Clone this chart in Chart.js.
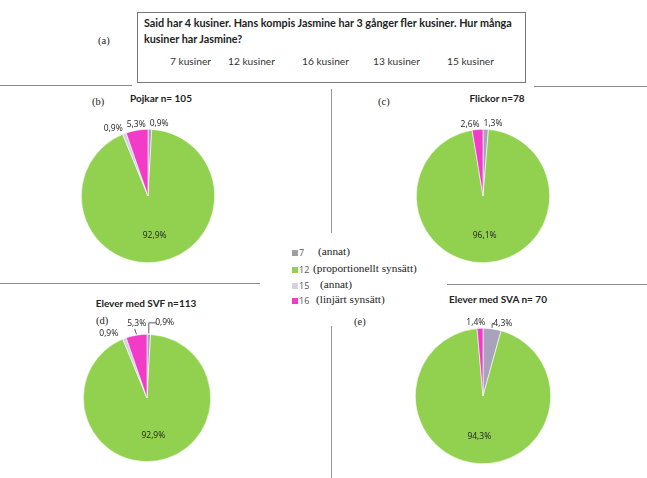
<!DOCTYPE html>
<html><head><meta charset="utf-8">
<script src="https://cdn.jsdelivr.net/npm/chart.js@4/dist/chart.umd.min.js"></script>
<style>
html,body{margin:0;padding:0;background:#fff;}
#root{position:relative;width:647px;height:478px;overflow:hidden;font-family:"Open Sans",sans-serif;}
.abs{position:absolute;white-space:nowrap;}
.hline{position:absolute;height:0;border-top:1.5px solid #8a8a8a;}
.vline{position:absolute;width:0;border-left:1.5px solid #9a9a9a;}
.qbox{position:absolute;left:137px;top:12px;width:389px;height:71px;border:1.5px solid #777;box-sizing:border-box;}
.qtext{position:absolute;left:6px;top:2px;font-family:Lato,sans-serif;font-weight:bold;font-size:10.8px;line-height:16px;color:#222;white-space:nowrap;}
.opt{position:absolute;top:42px;font-family:Lato,sans-serif;font-size:10.2px;color:#333;white-space:nowrap;}
.tag{font-family:"Liberation Serif",serif;font-size:10.5px;color:#222;}
.ptitle{font-family:Lato,sans-serif;font-weight:bold;font-size:10px;color:#222;transform:translateX(-50%);}
.leg{position:absolute;left:292px;font-size:10px;}
.sw{position:absolute;width:6px;height:6px;top:-3px;left:0;}
.num{position:absolute;left:7px;top:-7px;font-size:9px;color:#555;white-space:nowrap;}
.note{position:absolute;top:-8px;font-family:"Liberation Serif",serif;font-size:11.3px;color:#222;white-space:nowrap;}
canvas{position:absolute;}
</style></head>
<body><div id="root"></div>
<script>
// ---- data ----
const categories = ['7', '12', '15', '16'];
const categoryNotes = ['(annat)', '(proportionellt synsätt)', '(annat)', '(linjärt synsätt)'];
const pojkar = [0.9, 92.9, 0.9, 5.3];
const flickor = [1.3, 96.1, 0, 2.6];
const elevSVF = [0.9, 92.9, 0.9, 5.3];
const elevSVA = [4.3, 94.3, 0, 1.4];
const chartTitles = ['Pojkar n= 105', 'Flickor n=78', 'Elever med SVF n=113', 'Elever med SVA n= 70'];
const panelTags = ['(a)', '(b)', '(c)', '(d)', '(e)'];
const questionLines = ['Said har 4 kusiner. Hans kompis Jasmine har 3 gånger fler kusiner. Hur många', 'kusiner har Jasmine?'];
const answerOptions = ['7 kusiner', '12 kusiner', '16 kusiner', '13 kusiner', '15 kusiner'];

const colors = ['#a8a2bd', '#92d050', '#d3d1e6', '#f23cc8'];
const legendSwatch = ['#9f9f9f', '#92d050', '#d3d3e3', '#ee3cc4'];

const root = document.getElementById('root');
function el(cls, html, style) {
  const d = document.createElement('div');
  d.className = cls; d.innerHTML = html || '';
  Object.assign(d.style, style || {});
  root.appendChild(d); return d;
}

// question box
const box = el('qbox');
const qt = document.createElement('div'); qt.className = 'qtext';
qt.innerHTML = questionLines.join('<br>'); box.appendChild(qt);
const optX = [32, 90, 164, 235, 309];
answerOptions.forEach((o, i) => {
  const d = document.createElement('div'); d.className = 'opt';
  d.style.left = optX[i] + 'px'; d.textContent = o; box.appendChild(d);
});

// divider lines
el('hline', '', {left: '0px', top: '85px', width: '132px'});
el('hline', '', {left: '534px', top: '86px', width: '113px'});
el('hline', '', {left: '0px', top: '283px', width: '260px'});
el('hline', '', {left: '447px', top: '284px', width: '200px'});
el('vline', '', {left: '331px', top: '89px', height: '144px'});
el('vline', '', {left: '331px', top: '326px', height: '152px'});

// panel tags
const tagPos = [[98, 35], [92, 96], [378, 96], [96, 315], [354, 316]];
panelTags.forEach((t, i) => el('abs tag', t, {left: tagPos[i][0] + 'px', top: tagPos[i][1] + 'px'}));

// legend
const legY = [253, 270, 286, 301];
const noteX = [26, 21, 28, 24];
categories.forEach((c, i) => {
  const row = el('leg', '', {top: legY[i] + 'px'});
  row.innerHTML = `<div class="sw" style="background:${legendSwatch[i]}"></div><div class="num">${c}</div><div class="note" style="left:${noteX[i]}px">${categoryNotes[i]}</div>`;
});

// pie label plugin
const fmt = v => v.toFixed(1).replace('.', ',') + '%';
const pieLabels = {
  id: 'pieLabels',
  afterDatasetsDraw(chart, args, opts) {
    const ctx = chart.ctx;
    const meta = chart.getDatasetMeta(0);
    const data = chart.data.datasets[0].data;
    ctx.save();
    ctx.font = '8.5px "Open Sans", sans-serif';
    ctx.fillStyle = '#222';
    ctx.textAlign = 'center'; ctx.textBaseline = 'middle';
    const outside = [];
    meta.data.forEach((arc, i) => {
      const v = data[i]; if (!v) return;
      const p = arc.getProps(['x', 'y', 'startAngle', 'endAngle', 'outerRadius'], true);
      const mid = (p.startAngle + p.endAngle) / 2;
      if (v > 20) {
        const r = p.outerRadius * opts.inner;
        ctx.fillText(fmt(v), p.x + Math.cos(mid) * r, p.y + Math.sin(mid) * r);
      } else {
        const r = p.outerRadius * opts.outer;
        outside.push({v, mid, p, x: p.x + Math.cos(mid) * r, y: p.y + Math.sin(mid) * r, w: ctx.measureText(fmt(v)).width});
      }
    });
    outside.sort((a, b) => a.x - b.x);
    const orig = outside.reduce((s, o) => s + o.x, 0) / (outside.length || 1);
    for (let i = 1; i < outside.length; i++) {
      const need = (outside[i - 1].w + outside[i].w) / 2 + opts.gap;
      if (outside[i].x - outside[i - 1].x < need) outside[i].x = outside[i - 1].x + need;
    }
    const now = outside.reduce((s, o) => s + o.x, 0) / (outside.length || 1);
    outside.forEach((o, k) => {
      o.x += orig - now + (opts.shift || 0);
      if (opts.lift && opts.lift[k]) o.y += opts.lift[k];
      ctx.fillText(fmt(o.v), o.x, o.y);
      if (opts.leaders && opts.leaders[k]) {
        const ex = o.p.x + Math.cos(o.mid) * o.p.outerRadius;
        const ey = o.p.y + Math.sin(o.mid) * o.p.outerRadius;
        ctx.strokeStyle = '#333'; ctx.lineWidth = 0.8;
        ctx.beginPath();
        if (opts.leaders[k] === 'hook') {
          ctx.moveTo(o.x - o.w / 2 + 1, o.y);
          ctx.lineTo(ex, o.y); ctx.lineTo(ex, ey - 1);
        } else {
          ctx.moveTo(o.x - 2, o.y + 5); ctx.lineTo(ex, ey - 1);
        }
        ctx.stroke();
      }
    });
    ctx.restore();
  }
};

function makePie(values, cx, cy, r, labelOpts) {
  const S = 200;
  const c = document.createElement('canvas');
  c.width = S; c.height = S;
  c.style.left = (cx - S / 2) + 'px'; c.style.top = (cy - S / 2) + 'px';
  c.style.width = S + 'px'; c.style.height = S + 'px';
  root.appendChild(c);
  new Chart(c, {
    type: 'pie',
    data: {labels: categories, datasets: [{data: values, backgroundColor: colors, borderColor: '#ffffff', borderWidth: 0.6}]},
    options: {
      responsive: false, animation: false,
      layout: {padding: S / 2 - r},
      plugins: {legend: {display: false}, tooltip: {enabled: false}, title: {display: false},
        pieLabels: Object.assign({inner: 0.6, outer: 1.08, gap: 4}, labelOpts)}
    },
    plugins: [pieLabels]
  });
}

const titlePos = [[161, 92], [497, 92], [146, 297], [498, 293]];
chartTitles.forEach((t, i) => el('abs ptitle', t, {left: titlePos[i][0] + 'px', top: titlePos[i][1] + 'px'}));

makePie(pojkar, 148, 196, 67, {});
makePie(flickor, 483, 196, 67, {});
makePie(elevSVF, 147, 398, 64, {outer: 1.18, gap: 9, shift: 2, lift: [6, 0, 0], leaders: [null, 'line', 'hook']});
makePie(elevSVA, 483, 396, 68, {outer: 1.08, gap: 8, shift: 3, leaders: [null, 'hook']});
</script>
</body></html>
